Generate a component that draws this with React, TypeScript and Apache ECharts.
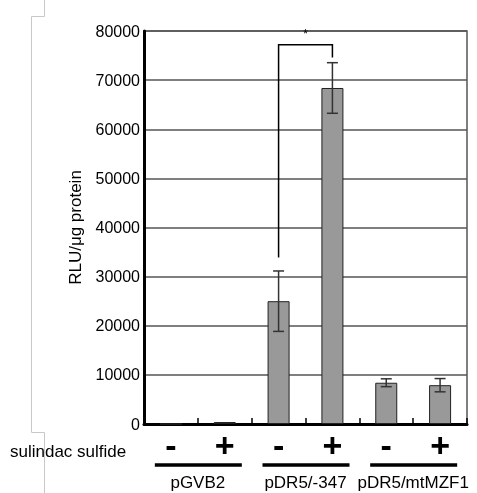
import React, { useEffect, useRef } from "react";
import * as echarts from "echarts";

const categories = ["pGVB2 -", "pGVB2 +", "pDR5/-347 -", "pDR5/-347 +", "pDR5/mtMZF1 -", "pDR5/mtMZF1 +"];
const signLabels = ["-", "+", "-", "+", "-", "+"];
const values = [0, 400, 25000, 68400, 8400, 7900];
const errors = [0, 0, 6150, 5150, 800, 1350];
const groupNames = ["pGVB2", "pDR5/-347", "pDR5/mtMZF1"];
const groupFirst = [0, 2, 4];
const groupLast = [1, 3, 5];
const bracketCats = [2, 3];
const bracketY = [77200, 33900, 74600]; // top, left end, right end
const bracketMark = "*";
const bracketMarkY = 79300;
const yMin = 0;
const yMax = 80000;
const yInterval = 10000;
const rowLabel = "sulindac sulfide";
const yName = "RLU/μg protein";

const FONT = "'Liberation Sans', Arial, Helvetica, sans-serif";

export default function App() {
  const ref = useRef<HTMLDivElement>(null);
  useEffect(() => {
    if (!ref.current) return;
    const chart = echarts.init(ref.current, undefined, { renderer: "svg" });
    const errData = values
      .map((v, i) => [i, v - errors[i], v + errors[i]])
      .filter((_, i) => errors[i] > 0);
    chart.setOption({
      animation: false,
      textStyle: { fontFamily: FONT },
      grid: {
        left: 144,
        right: 10,
        top: 31,
        bottom: 69,
        show: true,
        borderColor: "#555",
        borderWidth: 1.5,
        backgroundColor: "transparent",
      },
      xAxis: {
        type: "category",
        data: categories,
        axisLine: { lineStyle: { color: "#000", width: 3 } },
        axisTick: { show: true, inside: true, length: 6, lineStyle: { color: "#000", width: 1.5 } },
        axisLabel: {
          formatter: (_v: string, i: number) => signLabels[i],
          fontSize: 34,
          fontWeight: "bold",
          color: "#000",
          margin: 4,
          fontFamily: FONT,
        },
        splitLine: { show: false },
      },
      yAxis: {
        type: "value",
        min: yMin,
        max: yMax,
        interval: yInterval,
        name: yName,
        nameLocation: "middle",
        nameGap: 60,
        nameTextStyle: { fontSize: 17, color: "#000", fontFamily: FONT },
        axisLine: { show: true, lineStyle: { color: "#000", width: 3 } },
        axisTick: { show: false },
        axisLabel: {
          fontSize: 16,
          color: "#000",
          margin: 4,
          fontFamily: FONT,
          padding: [0, 0, 4, 0],
          formatter: (v: number) => String(v),
        },
        splitLine: { lineStyle: { color: "#555", width: 1.5 } },
      },
      series: [
        {
          type: "bar",
          data: values,
          barWidth: 22,
          itemStyle: { color: "#999", borderColor: "#222", borderWidth: 1 },
        },
        {
          type: "custom",
          data: errData,
          clip: false,
          z: 5,
          encode: { x: 0, y: [1, 2] },
          renderItem: (_p: any, api: any) => {
            const x = api.value(0);
            const lo = api.coord([x, api.value(1)]);
            const hi = api.coord([x, api.value(2)]);
            const c = 5.5;
            const st = { stroke: "#333", lineWidth: 1.5 };
            return {
              type: "group",
              children: [
                { type: "line", shape: { x1: hi[0], y1: hi[1], x2: lo[0], y2: lo[1] }, style: st },
                { type: "line", shape: { x1: hi[0] - c, y1: hi[1], x2: hi[0] + c, y2: hi[1] }, style: st },
                { type: "line", shape: { x1: lo[0] - c, y1: lo[1], x2: lo[0] + c, y2: lo[1] }, style: st },
              ],
            };
          },
        },
        {
          type: "custom",
          data: [[bracketCats[0], bracketCats[1], bracketY[0], bracketY[1], bracketY[2], bracketMarkY]],
          clip: false,
          z: 5,
          encode: { x: [0, 1], y: [2, 3, 4, 5] },
          renderItem: (_p: any, api: any) => {
            const x1 = api.value(0);
            const x2 = api.value(1);
            const a = api.coord([x1, api.value(3)]);
            const b = api.coord([x1, api.value(2)]);
            const c = api.coord([x2, api.value(2)]);
            const d = api.coord([x2, api.value(4)]);
            const m = api.coord([x1, api.value(5)]);
            return {
              type: "group",
              children: [
                {
                  type: "polyline",
                  shape: { points: [a, b, c, d] },
                  style: { stroke: "#000", lineWidth: 1.5, fill: null },
                },
                {
                  type: "text",
                  x: (b[0] + c[0]) / 2,
                  y: m[1],
                  style: {
                    text: bracketMark,
                    fontSize: 12,
                    fontFamily: FONT,
                    fill: "#000",
                    align: "center",
                    verticalAlign: "middle",
                  },
                },
              ],
            };
          },
        },
      ],
    });

    const groupGraphics: any[] = [];
    groupNames.forEach((name, g) => {
      const xa = chart.convertToPixel({ xAxisIndex: 0 }, groupFirst[g]) as number;
      const xb = chart.convertToPixel({ xAxisIndex: 0 }, groupLast[g]) as number;
      const cx = (xa + xb) / 2;
      groupGraphics.push({
        type: "line",
        shape: { x1: cx - 43, y1: 465, x2: cx + 44, y2: 465 },
        style: { stroke: "#000", lineWidth: 3.5 },
      });
      groupGraphics.push({
        type: "text",
        x: cx,
        y: 482,
        style: {
          text: name,
          fontSize: 17,
          fontFamily: FONT,
          fill: "#000",
          align: "center",
          verticalAlign: "middle",
        },
      });
    });
    const gray = { stroke: "#c8c8c8", lineWidth: 1, fill: null };
    chart.setOption({
      graphic: [
        ...groupGraphics,
        {
          type: "text",
          x: 10,
          y: 451,
          style: { text: rowLabel, fontSize: 17, fontFamily: FONT, fill: "#000", align: "left", verticalAlign: "middle" },
        },
        { type: "polyline", shape: { points: [[44.5, 0], [44.5, 16.5], [31.5, 16.5], [31.5, 432.5], [44.5, 432.5], [44.5, 493]] }, style: gray, z: -1 },
      ],
    });
    return () => chart.dispose();
  }, []);
  return <div ref={ref} style={{ position: "fixed", left: 0, top: 0, width: 477, height: 493 }} />;
}
